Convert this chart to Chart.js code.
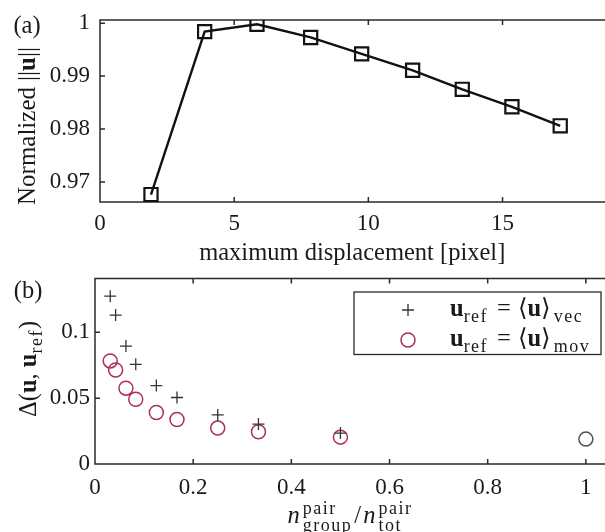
<!DOCTYPE html>
<html>
<head>
<meta charset="utf-8">
<script src="https://cdn.jsdelivr.net/npm/chart.js@4/dist/chart.umd.min.js"></script>
<style>
  html, body { margin: 0; padding: 0; background: #fff; overflow: hidden; }
  #wrap { position: relative; width: 605px; height: 532px; overflow: hidden; }
  canvas { position: absolute; left: 0; }
  #chartA { top: 0; }
  #chartB { top: 270px; }
</style>
</head>
<body>
<div id="wrap">
  <!-- the original figure is cropped on the right, so the canvases run past the edge -->
  <canvas id="chartA" width="616" height="270"></canvas>
  <canvas id="chartB" width="614" height="262"></canvas>
</div>
<script>
// panel (a)
const displacement = [1.9, 3.9, 5.85, 7.85, 9.75, 11.65, 13.5, 15.35, 17.15];
const normalizedU = [0.9676, 0.9984, 0.9998, 0.9973, 0.9942, 0.9911, 0.9875, 0.9842, 0.9806];
const xTicksA = [0, 5, 10, 15];
const yTicksA = [0.97, 0.98, 0.99, 1];

// panel (b)
const pairRatio = [0.031, 0.042, 0.063, 0.083, 0.125, 0.167, 0.25, 0.333, 0.5];
const deltaVec = [0.1275, 0.1131, 0.0896, 0.0757, 0.0596, 0.0505, 0.0373, 0.0303, 0.0235];
const pairRatioMov = [0.031, 0.042, 0.063, 0.083, 0.125, 0.167, 0.25, 0.333, 0.5, 1];
const deltaMov = [0.0783, 0.0714, 0.0576, 0.0492, 0.0391, 0.0338, 0.0273, 0.0245, 0.0204, 0.0189];
const xTicksB = [0, 0.2, 0.4, 0.6, 0.8, 1];
const yTicksB = [0, 0.05, 0.1];

const FONT = '"Liberation Serif", "DejaVu Serif", serif';
const TICK = 23;
const TXT = 24.5;
const INK = "#1a1a1a";
const movColor = "#ad2f57";

function fontFor(style, size) {
  if (style === "b") return `bold ${size}px ${FONT}`;
  if (style === "i") return `italic ${size}px ${FONT}`;
  if (style === "s" || style === "p" || style === "sp") return `${Math.round(size * 0.72)}px ${FONT}`;
  return `${size}px ${FONT}`;
}

// parts: [text, style]; "b" bold, "i" italic, "s" sub, "p" sup, "sp" [sup, sub] stacked, "g" gap in px
function drawRich(ctx, parts, x, y, size, align) {
  const small = (s) => s === "s" || s === "p" || s === "sp";
  const widths = parts.map(([t, s]) => {
    if (s === "g") return t;
    ctx.font = fontFor(s, size);
    ctx.letterSpacing = small(s) ? "1.5px" : "0px";
    if (s === "sp") return Math.max(ctx.measureText(t[0]).width, ctx.measureText(t[1]).width);
    return ctx.measureText(t).width;
  });
  const total = widths.reduce((a, b) => a + b, 0);
  let cx = align === "center" ? x - total / 2 : align === "right" ? x - total : x;
  ctx.textAlign = "left";
  ctx.textBaseline = "alphabetic";
  parts.forEach(([t, s], i) => {
    if (s !== "g") {
      ctx.font = fontFor(s, size);
      ctx.letterSpacing = small(s) ? "1.5px" : "0px";
      if (s === "sp") {
        ctx.fillText(t[0], cx, y - size * 0.36);
        ctx.fillText(t[1], cx, y + size * 0.34);
      } else {
        let dy = 0;
        if (s === "s") dy = size * 0.26;
        if (s === "p") dy = -size * 0.36;
        ctx.fillText(t, cx, y + dy);
      }
    }
    cx += widths[i];
  });
  ctx.letterSpacing = "0px";
}

// box on left/top/bottom with MATLAB style inward ticks
const framePlugin = {
  id: "frame",
  beforeDatasetsDraw(chart) {
    const { ctx, chartArea: a, scales } = chart;
    ctx.save();
    ctx.strokeStyle = "#2a2a2a";
    ctx.lineWidth = 1.5;
    ctx.beginPath();
    ctx.moveTo(a.right + 12, a.top);
    ctx.lineTo(a.left, a.top);
    ctx.lineTo(a.left, a.bottom);
    ctx.lineTo(a.right + 12, a.bottom);
    scales.x.ticks.forEach((t) => {
      const px = scales.x.getPixelForValue(t.value);
      ctx.moveTo(px, a.bottom);
      ctx.lineTo(px, a.bottom - 5);
      ctx.moveTo(px, a.top);
      ctx.lineTo(px, a.top + 5);
    });
    scales.y.ticks.forEach((t) => {
      const py = scales.y.getPixelForValue(t.value);
      ctx.moveTo(a.left, py);
      ctx.lineTo(a.left + 5, py);
    });
    ctx.stroke();
    ctx.restore();
  },
};

function scaleOpts(min, max, ticks, pad, size, isX) {
  return {
    type: "linear",
    min: min,
    max: max,
    grid: { display: false, drawTicks: false },
    border: { display: false },
    afterBuildTicks: (s) => { s.ticks = ticks.map((v) => ({ value: v })); },
    afterFit: (s) => {
      s.paddingLeft = s.paddingRight = s.paddingTop = s.paddingBottom = 0;
      if (isX) s.height = size; else s.width = size;
    },
    ticks: {
      autoSkip: false,
      maxRotation: 0,
      padding: pad,
      color: INK,
      font: { family: FONT, size: TICK },
      callback: (v) => String(v),
    },
  };
}

// ---------- panel (a) ----------
const textA = {
  id: "textA",
  afterDraw(chart) {
    const { ctx, chartArea: a } = chart;
    ctx.save();
    ctx.fillStyle = INK;
    drawRich(ctx, [["(a)", ""]], 27, 33, TXT, "center");
    // y title runs upward from just above the x axis
    ctx.translate(35, a.bottom + 3);
    ctx.rotate(-Math.PI / 2);
    drawRich(ctx, [["Normalized", ""], [6, "g"], ["||", ""], ["u", "b"], ["||", ""]], 0, 0, 25, "left");
    ctx.restore();
  },
};

const xA = scaleOpts(0, 18.8, xTicksA, 8, 68, true);
xA.title = {
  display: true,
  text: "maximum displacement [pixel]",
  color: INK,
  font: { family: FONT, size: TXT },
  padding: { top: 0, bottom: 2 },
};

new Chart(document.getElementById("chartA"), {
  type: "scatter",
  data: {
    datasets: [
      {
        label: "normalized",
        data: displacement.map((x, i) => ({ x: x, y: normalizedU[i] })),
        showLine: true,
        borderColor: "#111",
        borderWidth: 2.4,
        pointStyle: "rect",
        pointRadius: 9.3,
        pointBorderWidth: 2.2,
        pointBorderColor: "#111",
        pointBackgroundColor: "rgba(0,0,0,0)",
      },
    ],
  },
  options: {
    responsive: false,
    animation: false,
    layout: { padding: { top: 20, left: 0, right: 0, bottom: 0 } },
    plugins: { legend: { display: false }, tooltip: { enabled: false } },
    scales: {
      x: xA,
      y: scaleOpts(0.9662, 1.0006, yTicksA, 10, 100, false),
    },
  },
  plugins: [framePlugin, textA],
});

// ---------- panel (b) ----------
const refParts = (tag) => [["u", "b"], ["ref", "s"], [9, "g"], ["=", ""], [7, "g"], ["\u27E8", ""], ["u", "b"], ["\u27E9", ""], [3, "g"], [tag, "s"]];

const textB = {
  id: "textB",
  afterDraw(chart) {
    const { ctx, chartArea: a } = chart;
    ctx.save();
    ctx.fillStyle = INK;
    drawRich(ctx, [["(b)", ""]], 28, 28, TXT, "center");

    // x title, centred on the visible part of the axis
    drawRich(ctx, [["n", "i"], [3, "g"], [["pair", "group"], "sp"], [2, "g"], ["/", ""], [2, "g"], ["n", "i"], [3, "g"], [["pair", "tot"], "sp"]],
      (a.left + 605) / 2, 253, TXT, "center");

    // legend
    const lx = a.left + 259, ly = a.top + 13.5, lw = 247, lh = 62.5;
    ctx.fillStyle = "#fff";
    ctx.fillRect(lx, ly, lw, lh);
    ctx.strokeStyle = "#2a2a2a";
    ctx.lineWidth = 1.3;
    ctx.strokeRect(lx, ly, lw, lh);
    const sets = chart.data.datasets;
    const tags = ["vec", "mov"];
    sets.forEach((ds, i) => {
      const cy = ly + 18 + i * 30;
      ctx.fillStyle = "rgba(0,0,0,0)";
      ctx.strokeStyle = ds.legendColor;
      ctx.lineWidth = ds.pointBorderWidth;
      Chart.helpers.drawPoint(ctx, { pointStyle: ds.pointStyle, radius: ds.pointRadius, borderWidth: ds.pointBorderWidth }, lx + 54, cy);
      ctx.fillStyle = INK;
      drawRich(ctx, refParts(tags[i]), lx + 96, cy + 6, TXT, "left");
    });

    // y title
    ctx.fillStyle = INK;
    ctx.translate(36, a.bottom - 47);
    ctx.rotate(-Math.PI / 2);
    drawRich(ctx, [["\u0394(", ""], ["u", "b"], [", ", ""], ["u", "b"], ["ref", "s"], [")", ""]], 0, 0, TXT, "left");
    ctx.restore();
  },
};

new Chart(document.getElementById("chartB"), {
  type: "scatter",
  data: {
    datasets: [
      {
        label: "vec",
        data: pairRatio.map((x, i) => ({ x: x, y: deltaVec[i] })),
        pointStyle: "cross",
        pointRadius: 6,
        pointBorderWidth: 1.3,
        pointBorderColor: "#333",
        legendColor: "#333",
      },
      {
        label: "mov",
        data: pairRatioMov.map((x, i) => ({ x: x, y: deltaMov[i] })),
        pointStyle: "circle",
        pointRadius: 7,
        pointBorderWidth: 1.5,
        pointBorderColor: pairRatioMov.map((x) => (x === 1 ? "#505050" : movColor)),
        pointBackgroundColor: "rgba(0,0,0,0)",
        legendColor: movColor,
      },
    ],
  },
  options: {
    responsive: false,
    animation: false,
    layout: { padding: { top: 8, left: 0, right: 0, bottom: 0 } },
    plugins: { legend: { display: false }, tooltip: { enabled: false } },
    scales: {
      x: scaleOpts(0, 1.04, xTicksB, 10, 68, true),
      y: scaleOpts(0, 0.1409, yTicksB, 5, 95, false),
    },
  },
  plugins: [framePlugin, textB],
});
</script>
</body>
</html>
